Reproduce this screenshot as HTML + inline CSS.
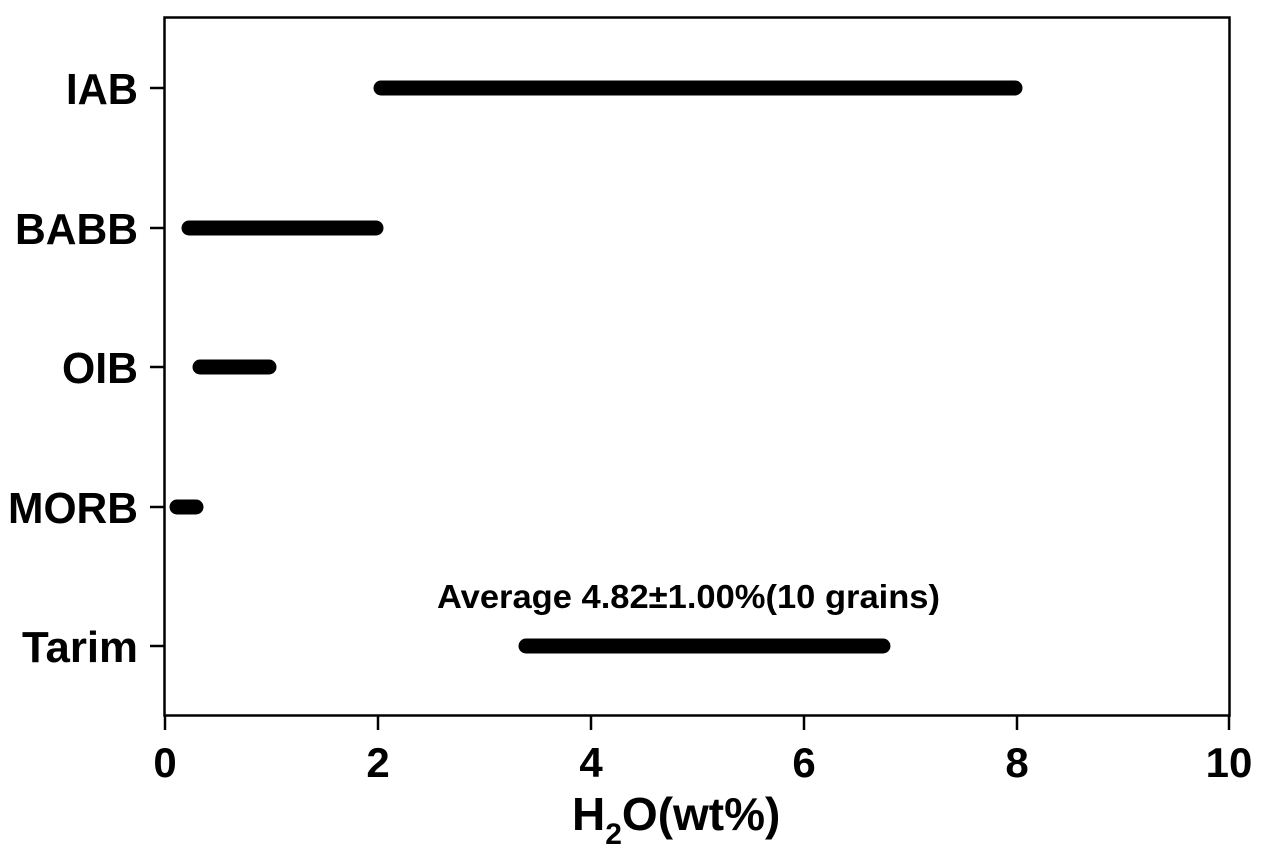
<!DOCTYPE html>
<html><head><style>body{margin:0;background:#fff}</style></head><body>
<svg width="1270" height="858" xmlns="http://www.w3.org/2000/svg" font-family="Liberation Sans, Arial, sans-serif" font-weight="bold">
<rect x="164.5" y="17.5" width="1065" height="698" fill="none" stroke="#000" stroke-width="2.5"/>
<g stroke="#000" stroke-width="2.5">
<line x1="150" y1="88" x2="164" y2="88"/><line x1="150" y1="228" x2="164" y2="228"/><line x1="150" y1="367" x2="164" y2="367"/><line x1="150" y1="507" x2="164" y2="507"/><line x1="150" y1="646" x2="164" y2="646"/>
<line x1="165" y1="716" x2="165" y2="730"/><line x1="378" y1="716" x2="378" y2="730"/><line x1="591" y1="716" x2="591" y2="730"/><line x1="804" y1="716" x2="804" y2="730"/><line x1="1017" y1="716" x2="1017" y2="730"/><line x1="1229" y1="716" x2="1229" y2="730"/>
</g>
<g stroke="#000" stroke-width="15" stroke-linecap="round">
<line x1="381" y1="88" x2="1015" y2="88"/>
<line x1="189" y1="228" x2="376" y2="228"/>
<line x1="200" y1="367" x2="269" y2="367"/>
<line x1="177" y1="507" x2="196" y2="507"/>
<line x1="526" y1="646" x2="883" y2="646"/>
</g>
<g font-size="44">
<text x="66" y="104" textLength="72" lengthAdjust="spacingAndGlyphs">IAB</text>
<text x="15" y="244" textLength="123" lengthAdjust="spacingAndGlyphs">BABB</text>
<text x="62" y="383" textLength="76" lengthAdjust="spacingAndGlyphs">OIB</text>
<text x="8" y="523" textLength="130" lengthAdjust="spacingAndGlyphs">MORB</text>
<text x="22" y="662" textLength="116" lengthAdjust="spacingAndGlyphs">Tarim</text>
</g>
<g font-size="42" text-anchor="middle">
<text x="165" y="777">0</text><text x="378" y="777">2</text><text x="591" y="777">4</text><text x="804" y="777">6</text><text x="1017" y="777">8</text><text x="1229" y="777">10</text>
</g>
<text x="437" y="608" font-size="33" textLength="503" lengthAdjust="spacingAndGlyphs">Average 4.82±1.00%(10 grains)</text>
<text x="572" y="830" font-size="46">H<tspan font-size="30" dy="14">2</tspan><tspan dy="-14">O(wt%)</tspan></text>
</svg>
</body></html>
